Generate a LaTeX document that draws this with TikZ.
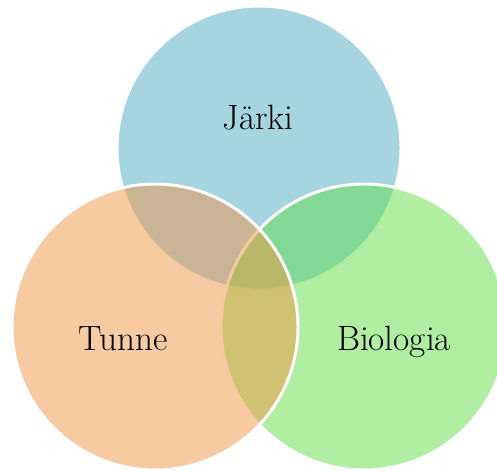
\documentclass[tikz,border=0pt]{standalone}
\usepackage{fontspec}
\definecolor{jarkiblue}{RGB}{77,171,197}
\definecolor{tunneorange}{RGB}{241,149,69}
\definecolor{biogreen}{RGB}{97,223,69}
\tikzset{
  venn/.style={draw=white, line width=1.7pt, fill opacity=0.5},
  label/.style={anchor=base, font=\fontsize{20}{24}\selectfont}
}
\begin{document}
\begin{tikzpicture}
            \useasboundingbox (0,0) rectangle (9.94,9.4);

            % circles
            \filldraw[venn, fill=jarkiblue] (5.18,6.44) circle (2.84);
            \filldraw[venn, fill=biogreen] (7.28,2.86) circle (2.86);
            \filldraw[venn, fill=tunneorange] (3.10,2.86) circle (2.86);

            \node[label] (jarki) at (5.16,6.82) {Järki};
            \node[label] (tunne) at (2.46,2.40) {Tunne};
            \node[label] (biologia) at (7.88,2.40) {Biologia};
\end{tikzpicture}
\end{document}
